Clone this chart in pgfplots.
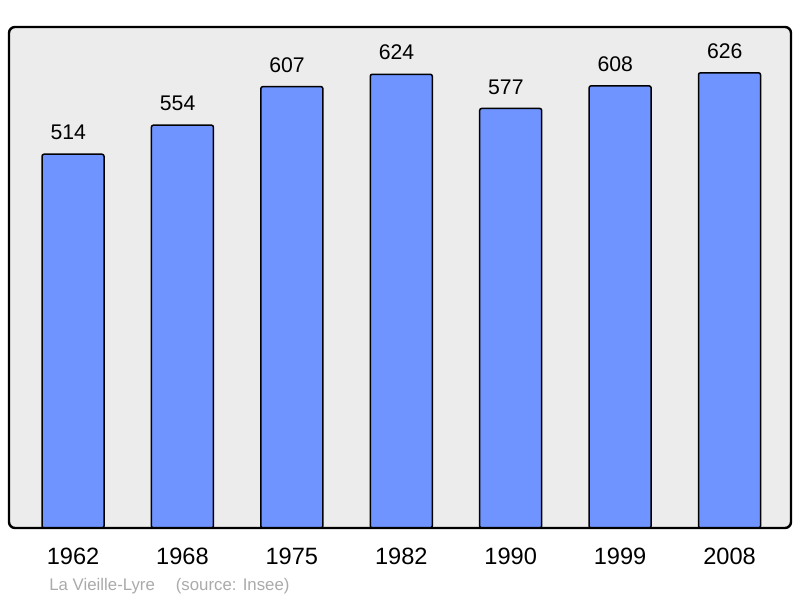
\documentclass[border=0pt]{standalone}
\usepackage{fontspec}
\setmainfont{Liberation Sans}
\usepackage{pgfplots}
\pgfplotsset{compat=1.18}
\definecolor{barblue}{HTML}{7094FF}
\definecolor{plotbg}{HTML}{ECECEC}
\definecolor{srcgray}{HTML}{AAAAAA}
\begin{document}
\begin{tikzpicture}
\useasboundingbox (-4.5pt,-35pt) rectangle (395.5pt,264pt);
\begin{axis}[
  scale only axis, width=391pt, height=250.5pt,
  xmin=-0.585, xmax=6.562, ymin=0, ymax=689,
  axis line style={draw=none},
  axis background/.style={fill=plotbg, rounded corners=3pt},
  ytick=\empty,
  xtick={0,...,6},
  xticklabels={1962,1968,1975,1982,1990,1999,2008},
  major tick length=0pt,
  xticklabel style={font=\fontsize{11.8}{14}\selectfont, inner sep=0pt, yshift=-10pt, anchor=north},
  ybar, bar width=31pt,
  nodes near coords,
  every node near coord/.append style={font=\fontsize{10.6}{12}\selectfont, inner sep=0pt, anchor=south, yshift=6.7pt, xshift=-2.4pt},
  /pgf/number format/assume math mode=true,
  clip=false,
]
\addplot[fill=barblue, draw=black, line width=0.75pt, rounded corners=1pt]
  coordinates {(0,514) (1,554) (2,607) (3,624) (4,577) (5,608) (6,626)};
\draw[line width=1.2pt, rounded corners=3pt] (rel axis cs:0,0) rectangle (rel axis cs:1,1);
\end{axis}
\node[anchor=base west, inner sep=0pt, text=srcgray, font=\fontsize{8.4}{10}\selectfont]
  at (20pt,-31.5pt) {La Vieille-Lyre\hspace{10.5pt}(source: Insee)};
\end{tikzpicture}
\end{document}
